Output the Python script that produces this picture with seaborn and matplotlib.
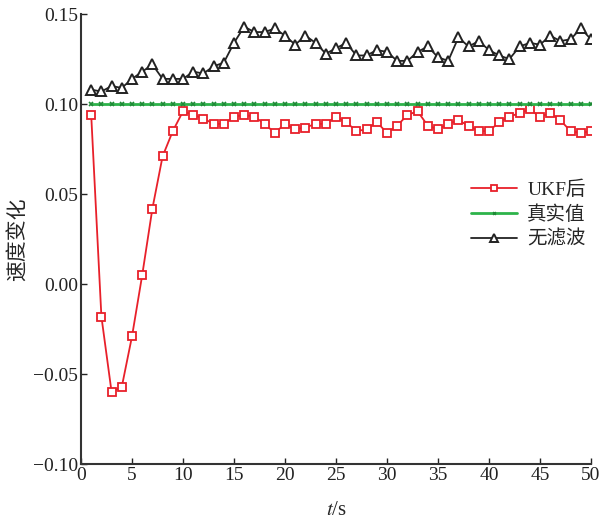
import matplotlib
matplotlib.use('Agg')
import matplotlib.pyplot as plt
import seaborn as sns
import numpy as np
import pandas as pd

t = list(range(1, 51))

ukf = [0.094, -0.018, -0.060, -0.057, -0.029, 0.005, 0.042, 0.071, 0.085, 0.096,
       0.094, 0.092, 0.089, 0.089, 0.093, 0.094, 0.093, 0.089, 0.084, 0.089,
       0.086, 0.087, 0.089, 0.089, 0.093, 0.090, 0.085, 0.086, 0.090, 0.084,
       0.088, 0.094, 0.096, 0.088, 0.086, 0.089, 0.091, 0.088, 0.085, 0.085,
       0.090, 0.093, 0.095, 0.097, 0.093, 0.095, 0.091, 0.085, 0.084, 0.085]
truth = [0.1] * 50
raw = [0.108, 0.107, 0.110, 0.109, 0.114, 0.118, 0.122, 0.114, 0.114, 0.114,
       0.118, 0.117, 0.121, 0.123, 0.134, 0.143, 0.140, 0.140, 0.142, 0.138,
       0.133, 0.138, 0.134, 0.128, 0.131, 0.134, 0.127, 0.127, 0.130, 0.129,
       0.124, 0.124, 0.129, 0.132, 0.126, 0.124, 0.137, 0.132, 0.135, 0.130,
       0.127, 0.125, 0.132, 0.134, 0.133, 0.138, 0.135, 0.136, 0.142, 0.136]

sns.set_style('ticks')
plt.rcParams['font.family'] = ['Liberation Serif', 'Noto Sans CJK SC']
plt.rcParams['mathtext.fontset'] = 'stix'
plt.rcParams['axes.unicode_minus'] = True

fig = plt.figure(figsize=(6, 5.21), dpi=100)
ax = fig.add_axes([0.135, 0.109, 0.850, 0.864])

df = pd.DataFrame({'t': t, 'ukf': ukf, 'truth': truth, 'raw': raw})

sns.lineplot(data=df, x='t', y='ukf', ax=ax, color='#e8202a', lw=1.3,
             marker='s', markersize=5.5, markerfacecolor='white',
             markeredgecolor='#e8202a', markeredgewidth=1.3, label='UKF后')
sns.lineplot(data=df, x='t', y='truth', ax=ax, color='#2db34a', lw=2,
             marker='x', markersize=2.5, markeredgecolor='#1f8a36',
             markeredgewidth=1.2, label='真实值')
sns.lineplot(data=df, x='t', y='raw', ax=ax, color='#222222', lw=1.3,
             marker='^', markersize=6.5, markerfacecolor='white',
             markeredgecolor='#222222', markeredgewidth=1.4, label='无滤波')

ax.set_xlim(0, 50)
ax.set_ylim(-0.10, 0.15)
ax.set_xticks(range(0, 51, 5))
ax.set_yticks([-0.10, -0.05, 0.0, 0.05, 0.10, 0.15])
ax.set_yticklabels(['\u22120.10', '\u22120.05', '0.00', '0.05', '0.10', '0.15'])
ax.tick_params(direction='in', labelsize=14, length=4, width=1, pad=2, colors='#222222')
sns.despine(ax=ax)
for s in ['left', 'bottom']:
    ax.spines[s].set_linewidth(1.5)
    ax.spines[s].set_color('#333333')

ax.set_xlabel('$t$/s', fontsize=15, labelpad=12)
ax.set_ylabel('速度变化', fontsize=15, labelpad=3)

ax.legend(loc='upper left', bbox_to_anchor=(0.73, 0.67), frameon=False,
          fontsize=14, handlelength=2.4, labelspacing=0.35, handletextpad=0.5,
          markerscale=0.8)

fig.savefig('out.png', dpi=100)
